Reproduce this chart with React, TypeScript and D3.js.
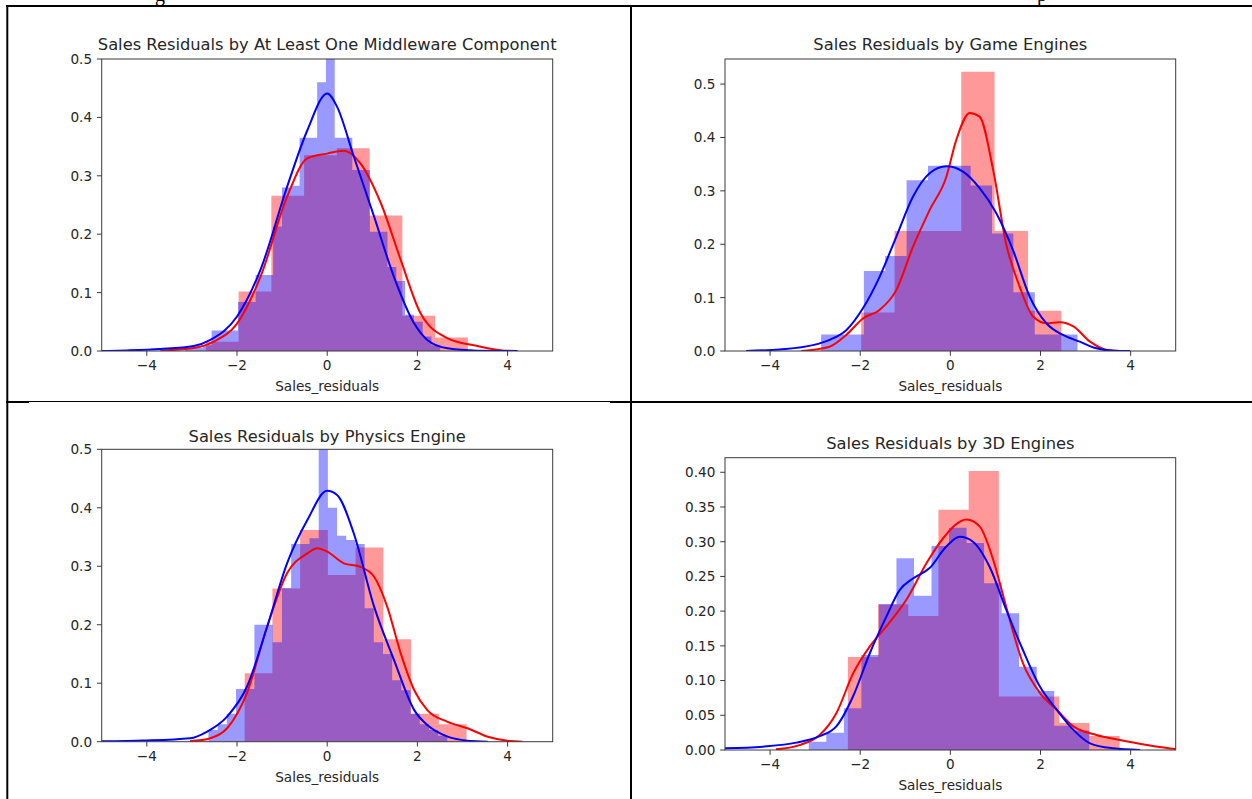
import React from 'react';
import * as d3 from 'd3';

// ---------- data ----------
const X_TICKS = [-4, -2, 0, 2, 4];
const Y_TICKS_A = [0, 0.1, 0.2, 0.3, 0.4, 0.5];
const Y_TICKS_D = [0, 0.05, 0.1, 0.15, 0.2, 0.25, 0.3, 0.35, 0.4];
const TITLES = [
  'Sales Residuals by At Least One Middleware Component',
  'Sales Residuals by Game Engines',
  'Sales Residuals by Physics Engine',
  'Sales Residuals by 3D Engines',
];
const X_LABEL = 'Sales_residuals';
const Y_MAX = [0.5, 0.547, 0.5, 0.421];

// histograms: first bin edge, bin width, densities
const p1RedStart = -2.69, p1RedWidth = 0.726;
const p1RedHist = [0.016, 0.102, 0.266, 0.335, 0.347, 0.232, 0.0605, 0.023];
const p1BlueStart = -3.148, p1BlueWidth = 0.195;
const p1BlueHist = [0.005, 0.005, 0.01, 0.035, 0.035, 0.035, 0.084, 0.084, 0.13, 0.13, 0.213, 0.28, 0.283, 0.365, 0.365, 0.46, 0.52, 0.365, 0.365, 0.31, 0.31, 0.204, 0.204, 0.144, 0.12, 0.062, 0.05, 0.025, 0.01];

const p2RedStart = -1.978, p2RedWidth = 0.74;
const p2RedHist = [0.072, 0.225, 0.225, 0.523, 0.225, 0.0755];
const p2BlueStart = -2.867, p2BlueWidth = 0.474;
const p2BlueHist = [0.031, 0.031, 0.15, 0.178, 0.32, 0.347, 0.347, 0.31, 0.22, 0.11, 0.031, 0.031];

const p3RedStart = -1.83, p3RedWidth = 0.615;
const p3RedHist = [0.117, 0.262, 0.362, 0.285, 0.332, 0.175, 0.048, 0.03];
const p3BlueStart = -2.633, p3BlueWidth = 0.2037;
const p3BlueHist = [0.02, 0.03, 0.048, 0.09, 0.09, 0.2, 0.2, 0.17, 0.263, 0.338, 0.338, 0.348, 0.52, 0.4, 0.352, 0.345, 0.338, 0.228, 0.17, 0.15, 0.105, 0.088, 0.048, 0.03, 0.02, 0.01];

const p4RedStart = -2.274, p4RedWidth = 0.67;
const p4RedHist = [0.134, 0.21, 0.193, 0.346, 0.402, 0.077, 0.077, 0.039, 0.02];
const p4BlueStart = -3.141, p4BlueWidth = 0.389;
const p4BlueHist = [0.012, 0.025, 0.06, 0.137, 0.21, 0.276, 0.222, 0.294, 0.32, 0.298, 0.24, 0.197, 0.12, 0.085, 0.035, 0.028];

// KDE curves: x values and densities
const p1RedKdeX = [-3.7, -2.96, -2.52, -2.0, -1.48, -0.89, -0.44, 0, 0.37, 0.74, 1.19, 1.63, 2.07, 2.67, 3.33, 3.93, 4.22];
const p1RedKdeY = [0.0006, 0.005, 0.016, 0.047, 0.127, 0.264, 0.33, 0.338, 0.343, 0.321, 0.253, 0.156, 0.0645, 0.0217, 0.0086, 0.0006, 0];
const p1BlueKdeX = [-5, -4.44, -3.7, -2.96, -2.59, -2.0, -1.48, -0.89, -0.44, 0, 0.22, 0.59, 1.04, 1.48, 1.93, 2.22, 2.67, 3.33, 4.22];
const p1BlueKdeY = [0, 0.001, 0.0034, 0.0086, 0.019, 0.059, 0.139, 0.281, 0.378, 0.441, 0.418, 0.333, 0.23, 0.127, 0.047, 0.019, 0.0046, 0.0006, 0];

const p2RedKdeX = [-3.31, -2.68, -2.31, -1.94, -1.57, -1.2, -0.83, -0.46, -0.09, 0.13, 0.43, 0.65, 0.95, 1.24, 1.54, 1.84, 2.13, 2.43, 2.73, 3.1, 3.47, 3.76];
const p2RedKdeY = [0, 0.008, 0.03, 0.061, 0.077, 0.114, 0.195, 0.264, 0.326, 0.395, 0.446, 0.439, 0.339, 0.2, 0.12, 0.064, 0.052, 0.054, 0.046, 0.0175, 0.002, 0];
const p2BlueKdeX = [-4.53, -3.79, -3.05, -2.68, -2.31, -1.94, -1.57, -1.2, -0.83, -0.46, -0.09, 0.28, 0.65, 1.02, 1.39, 1.76, 2.13, 2.5, 2.87, 3.24, 3.61, 3.99];
const p2BlueKdeY = [0, 0.003, 0.011, 0.021, 0.039, 0.08, 0.139, 0.214, 0.289, 0.333, 0.346, 0.336, 0.305, 0.258, 0.189, 0.102, 0.052, 0.03, 0.0175, 0.005, 0.0006, 0];

const p3RedKdeX = [-3.04, -2.59, -2.22, -1.78, -1.33, -0.89, -0.44, -0.22, 0, 0.37, 0.74, 1.04, 1.33, 1.63, 1.93, 2.22, 2.67, 3.11, 3.56, 4.0, 4.33];
const p3RedKdeY = [0.001, 0.006, 0.023, 0.083, 0.197, 0.288, 0.322, 0.331, 0.325, 0.305, 0.299, 0.282, 0.231, 0.151, 0.088, 0.054, 0.034, 0.023, 0.0086, 0.0017, 0];
const p3BlueKdeX = [-5, -4.07, -3.04, -2.67, -2.22, -1.78, -1.33, -0.89, -0.44, 0, 0.22, 0.59, 1.04, 1.48, 1.93, 2.22, 2.67, 3.11, 3.56];
const p3BlueKdeY = [0.0006, 0.002, 0.006, 0.017, 0.043, 0.094, 0.197, 0.305, 0.379, 0.429, 0.422, 0.356, 0.231, 0.14, 0.054, 0.0285, 0.0086, 0.0017, 0];

const p4RedKdeX = [-3.87, -3.35, -2.9, -2.53, -2.16, -1.79, -1.42, -0.98, -0.53, -0.16, 0.36, 0.65, 0.95, 1.24, 1.61, 1.99, 2.36, 2.73, 3.24, 3.76, 4.36, 5.0, 5.3];
const p4RedKdeY = [0.001, 0.007, 0.0216, 0.053, 0.11, 0.149, 0.178, 0.216, 0.269, 0.305, 0.332, 0.322, 0.274, 0.206, 0.125, 0.082, 0.058, 0.034, 0.0216, 0.0144, 0.0072, 0.0014, 0];
const p4BlueKdeX = [-5.01, -4.16, -3.42, -2.9, -2.53, -2.16, -1.79, -1.42, -1.13, -0.83, -0.46, -0.09, 0.21, 0.5, 0.87, 1.24, 1.61, 1.99, 2.36, 2.73, 3.1, 3.61, 4.21];
const p4BlueKdeY = [0.0024, 0.0048, 0.0106, 0.02, 0.034, 0.077, 0.139, 0.192, 0.23, 0.247, 0.262, 0.293, 0.307, 0.3, 0.264, 0.202, 0.144, 0.091, 0.058, 0.029, 0.0096, 0.0024, 0];

// ---------- layout ----------
type Box = { l: number; r: number; t: number; b: number };
const BOXES: Box[] = [
  { l: 101.7, r: 552.7, t: 59, b: 351 },
  { l: 725, r: 1175.7, t: 59, b: 351 },
  { l: 101.7, r: 552.7, t: 449.3, b: 741.7 },
  { l: 725, r: 1175.7, t: 457.7, b: 750 },
];
const TITLE_BASELINE = [50, 50, 441.5, 449.3];
const FONT = '"DejaVu Sans", sans-serif';
const TXT = '#262626';
const SPINE = '#3a3a3a';
const TICK_FS = 13.6;
const TITLE_FS = 16.3;

type Hist = { start: number; width: number; heights: number[] };

function histPath(h: Hist, x: d3.ScaleLinear<number, number>, y: d3.ScaleLinear<number, number>) {
  const p = d3.path();
  const e = (i: number) => x(h.start + i * h.width);
  p.moveTo(e(0), y(0));
  h.heights.forEach((v, i) => {
    p.lineTo(e(i), y(v));
    p.lineTo(e(i + 1), y(v));
  });
  p.lineTo(e(h.heights.length), y(0));
  p.closePath();
  return p.toString();
}

function Panel(props: {
  idx: number; box: Box; ymax: number; yTicks: number[]; yFmt: (v: number) => string;
  title: string; red: Hist; blue: Hist; redKde: [number, number][]; blueKde: [number, number][];
}) {
  const { idx, box, ymax, yTicks, yFmt, title, red, blue, redKde, blueKde } = props;
  const x = d3.scaleLinear().domain([-5, 5]).range([box.l, box.r]);
  const y = d3.scaleLinear().domain([0, ymax]).range([box.b, box.t]);
  const line = d3.line<[number, number]>().x((d) => x(d[0])).y((d) => y(d[1])).curve(d3.curveMonotoneX);
  const clipId = `clip${idx}`;
  const tickLen = 4.8;
  const fmtX = (v: number) => (v < 0 ? '\u2212' + Math.abs(v) : String(v));
  return (
    <g>
      <defs>
        <clipPath id={clipId}>
          <rect x={box.l} y={box.t} width={box.r - box.l} height={box.b - box.t} />
        </clipPath>
      </defs>
      <g clipPath={`url(#${clipId})`}>
        <path d={histPath(red, x, y)} fill="#ff0000" fillOpacity={0.4} stroke="none" />
        <path d={histPath(blue, x, y)} fill="#0000ff" fillOpacity={0.4} stroke="none" />
        <path d={line(redKde) || ''} fill="none" stroke="#ff0000" strokeWidth={2} />
        <path d={line(blueKde) || ''} fill="none" stroke="#0000ff" strokeWidth={2} />
      </g>
      <rect x={box.l} y={box.t} width={box.r - box.l} height={box.b - box.t} fill="none" stroke={SPINE} strokeWidth={1} />
      {X_TICKS.map((t) => (
        <g key={'x' + t}>
          <line x1={x(t)} x2={x(t)} y1={box.b} y2={box.b + tickLen} stroke={SPINE} strokeWidth={1} />
          <text x={x(t)} y={box.b + 19} textAnchor="middle" fontFamily={FONT} fontSize={TICK_FS} fill={TXT}>{fmtX(t)}</text>
        </g>
      ))}
      {yTicks.map((t) => (
        <g key={'y' + t}>
          <line x1={box.l - tickLen} x2={box.l} y1={y(t)} y2={y(t)} stroke={SPINE} strokeWidth={1} />
          <text x={box.l - 9.6} y={y(t) + 4.9} textAnchor="end" fontFamily={FONT} fontSize={TICK_FS} fill={TXT}>{yFmt(t)}</text>
        </g>
      ))}
      <text x={(box.l + box.r) / 2} y={TITLE_BASELINE[idx]} textAnchor="middle" fontFamily={FONT} fontSize={TITLE_FS} fill={TXT}>{title}</text>
      <text x={(box.l + box.r) / 2} y={box.b + 40} textAnchor="middle" fontFamily={FONT} fontSize={TICK_FS} fill={TXT}>{X_LABEL}</text>
    </g>
  );
}

const zip = (a: number[], b: number[]) => a.map((v, i) => [v, b[i]] as [number, number]);

export default function App() {
  const f1 = d3.format('.1f');
  const f2 = d3.format('.2f');
  const panels = [
    { red: { start: p1RedStart, width: p1RedWidth, heights: p1RedHist }, blue: { start: p1BlueStart, width: p1BlueWidth, heights: p1BlueHist }, redKde: zip(p1RedKdeX, p1RedKdeY), blueKde: zip(p1BlueKdeX, p1BlueKdeY), yTicks: Y_TICKS_A, yFmt: f1 },
    { red: { start: p2RedStart, width: p2RedWidth, heights: p2RedHist }, blue: { start: p2BlueStart, width: p2BlueWidth, heights: p2BlueHist }, redKde: zip(p2RedKdeX, p2RedKdeY), blueKde: zip(p2BlueKdeX, p2BlueKdeY), yTicks: Y_TICKS_A, yFmt: f1 },
    { red: { start: p3RedStart, width: p3RedWidth, heights: p3RedHist }, blue: { start: p3BlueStart, width: p3BlueWidth, heights: p3BlueHist }, redKde: zip(p3RedKdeX, p3RedKdeY), blueKde: zip(p3BlueKdeX, p3BlueKdeY), yTicks: Y_TICKS_A, yFmt: f1 },
    { red: { start: p4RedStart, width: p4RedWidth, heights: p4RedHist }, blue: { start: p4BlueStart, width: p4BlueWidth, heights: p4BlueHist }, redKde: zip(p4RedKdeX, p4RedKdeY), blueKde: zip(p4BlueKdeX, p4BlueKdeY), yTicks: Y_TICKS_D, yFmt: f2 },
  ];
  return (
    <svg width={1252} height={799} style={{ position: 'absolute', left: 0, top: 0, background: '#fff' }}>
      <rect x={0} y={0} width={1252} height={799} fill="#fff" />
      {/* cut-off document text above the table (only descenders visible, as in the reference) */}
      <text x={155} y={1} fontFamily='"Liberation Serif", serif' fontSize={20} fill="#000">g</text>
      <text x={1037} y={1} fontFamily='"Liberation Serif", serif' fontSize={20} fill="#000">p</text>
      {panels.map((p, i) => (
        <Panel key={i} idx={i} box={BOXES[i]} ymax={Y_MAX[i]} title={TITLES[i]} {...p} />
      ))}
      {/* table borders */}
      <line x1={6} x2={1252} y1={6} y2={6} stroke="#000" strokeWidth={2} />
      <line x1={7.3} x2={7.3} y1={5} y2={799} stroke="#000" strokeWidth={2} />
      <line x1={631} x2={631} y1={5} y2={799} stroke="#000" strokeWidth={2} />
      <line x1={6} x2={29} y1={402} y2={402} stroke="#000" strokeWidth={2} />
      <line x1={29} x2={610} y1={401.5} y2={401.5} stroke="#000" strokeWidth={1} />
      <line x1={610} x2={1252} y1={402} y2={402} stroke="#000" strokeWidth={2} />
    </svg>
  );
}
